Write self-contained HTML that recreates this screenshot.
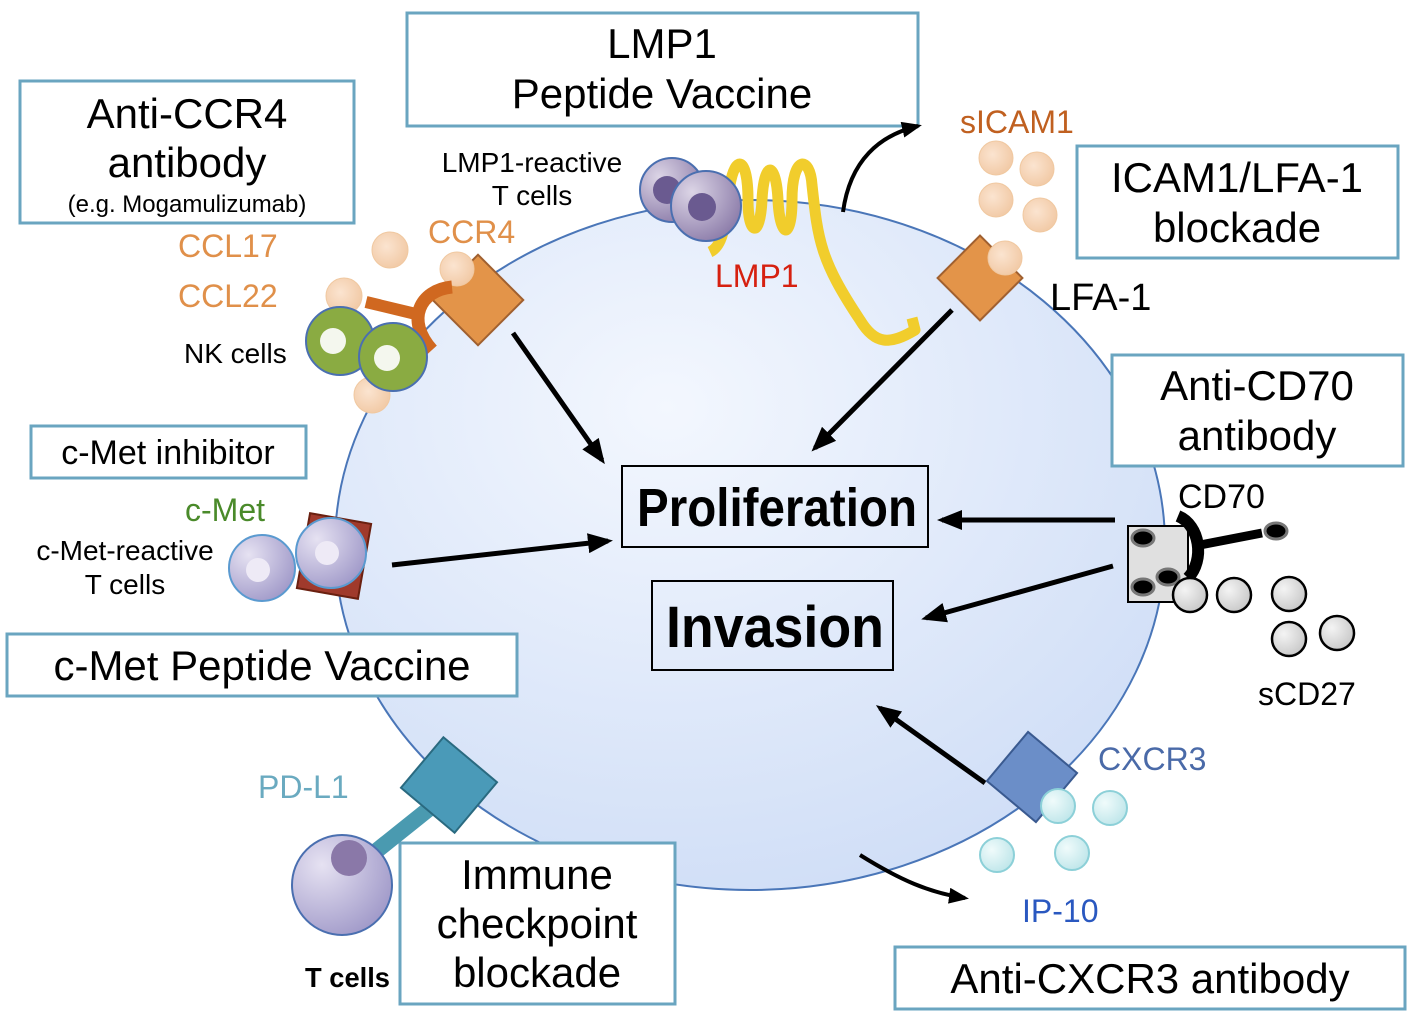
<!DOCTYPE html>
<html><head><meta charset="utf-8"><style>
body{margin:0;background:#fff;}
svg text{font-family:"Liberation Sans","DejaVu Sans",sans-serif;}
</style></head><body>
<svg width="1418" height="1022" viewBox="0 0 1418 1022" xmlns="http://www.w3.org/2000/svg">
<defs>
<radialGradient id="cell" cx="0.4" cy="0.3" r="0.8"><stop offset="0" stop-color="#f3f7fe"/><stop offset="1" stop-color="#cddcf6"/></radialGradient>
<radialGradient id="peach" cx="0.4" cy="0.4" r="0.6"><stop offset="0" stop-color="#fbe4d0"/><stop offset="1" stop-color="#f2cba8"/></radialGradient>
<radialGradient id="purp" cx="0.3" cy="0.3" r="0.8"><stop offset="0" stop-color="#dcd5e6"/><stop offset="1" stop-color="#8a7aa8"/></radialGradient>
<radialGradient id="lav" cx="0.3" cy="0.3" r="0.8"><stop offset="0" stop-color="#e6e2f2"/><stop offset="1" stop-color="#9f98c8"/></radialGradient>
<radialGradient id="grey" cx="0.35" cy="0.35" r="0.7"><stop offset="0" stop-color="#f4f4f4"/><stop offset="1" stop-color="#c8c8c8"/></radialGradient>
<radialGradient id="cyan" cx="0.35" cy="0.35" r="0.7"><stop offset="0" stop-color="#f0fbfb"/><stop offset="1" stop-color="#bfe6ea"/></radialGradient>
<marker id="ah" markerWidth="5" markerHeight="4" refX="4" refY="2" orient="auto" markerUnits="strokeWidth"><path d="M0,0 L5,2 L0,4 Z" fill="#000"/></marker>
</defs>
<ellipse cx="750" cy="545" rx="415" ry="345" fill="url(#cell)" stroke="#4a76b8" stroke-width="2"/>

<g fill="#fff" stroke="#6aa5c0" stroke-width="3">
<rect x="20" y="81" width="334" height="142"/>
<rect x="407" y="13" width="511" height="113"/>
<rect x="1077" y="146" width="321" height="112"/>
<rect x="1112" y="355" width="291" height="111"/>
<rect x="31" y="426" width="275" height="52"/>
<rect x="7" y="634" width="510" height="62"/>
<rect x="400" y="843" width="275" height="161"/>
<rect x="895" y="947" width="510" height="62"/>
</g>
<g font-size="42" text-anchor="middle" fill="#000">
<text x="187" y="128">Anti-CCR4</text>
<text x="187" y="177">antibody</text>
<text x="187" y="212" font-size="24">(e.g. Mogamulizumab)</text>
<text x="662" y="58">LMP1</text>
<text x="662" y="108">Peptide Vaccine</text>
<text x="1237" y="192">ICAM1/LFA-1</text>
<text x="1237" y="242">blockade</text>
<text x="1257" y="400">Anti-CD70</text>
<text x="1257" y="450">antibody</text>
<text x="168" y="464" font-size="34">c-Met inhibitor</text>
<text x="262" y="680">c-Met Peptide Vaccine</text>
<text x="537" y="889">Immune</text>
<text x="537" y="938">checkpoint</text>
<text x="537" y="987">blockade</text>
<text x="1150" y="993">Anti-CXCR3 antibody</text>
</g>

<rect x="622" y="466" width="306" height="81" fill="none" stroke="#000" stroke-width="2"/>
<text x="777" y="526" font-size="54" font-weight="bold" text-anchor="middle" textLength="280" lengthAdjust="spacingAndGlyphs">Proliferation</text>
<rect x="652" y="581" width="241" height="89" fill="none" stroke="#000" stroke-width="2"/>
<text x="775" y="647" font-size="58" font-weight="bold" text-anchor="middle" textLength="218" lengthAdjust="spacingAndGlyphs">Invasion</text>

<g stroke="#000" stroke-width="5" fill="none" marker-end="url(#ah)">
<line x1="513" y1="333" x2="602" y2="460"/>
<line x1="952" y1="310" x2="815" y2="448"/>
<line x1="392" y1="565" x2="608" y2="541"/>
<line x1="1115" y1="520" x2="942" y2="520"/>
<line x1="1113" y1="566" x2="926" y2="618"/>
<line x1="985" y1="783" x2="880" y2="708"/>
<path d="M843,212 C850,160 880,135 918,126" stroke-width="4"/>
<path d="M860,855 C900,880 930,893 965,898" stroke-width="4"/>
</g>

<circle cx="390" cy="250" r="18" fill="url(#peach)" stroke="#f0c8a0"/>
<circle cx="344" cy="296" r="18" fill="url(#peach)" stroke="#f0c8a0"/>
<circle cx="372" cy="395" r="18" fill="url(#peach)" stroke="#f0c8a0"/>
<rect x="446" y="268" width="64" height="64" fill="#e39449" stroke="#a06030" stroke-width="2" transform="rotate(45 478 300)"/>
<circle cx="457" cy="269" r="17" fill="url(#peach)" stroke="#f0c8a0"/>
<path d="M366,302 L420,315" stroke="#d06820" stroke-width="12"/>
<path d="M452,287 C420,290 405,320 432,350" stroke="#d06820" stroke-width="13" fill="none"/>
<circle cx="340" cy="341" r="34" fill="#8aab42" stroke="#4a6fb0" stroke-width="2"/>
<circle cx="333" cy="341" r="13" fill="#f4f7ee"/>
<circle cx="393" cy="357" r="34" fill="#8aab42" stroke="#4a6fb0" stroke-width="2"/>
<circle cx="387" cy="358" r="13" fill="#f4f7ee"/>
<g font-size="32" fill="#e0904a"><text x="178" y="257">CCL17</text><text x="178" y="307">CCL22</text><text x="428" y="243">CCR4</text></g>
<text x="184" y="363" font-size="28">NK cells</text>
<text x="532" y="172" font-size="28" text-anchor="middle">LMP1-reactive</text>
<text x="532" y="205" font-size="28" text-anchor="middle">T cells</text>

<path d="M710,252 C725,245 725,220 730,185 C735,155 748,155 748,200 C748,235 760,240 762,200 C764,160 776,160 778,200 C780,240 792,240 792,200 C792,155 810,155 812,185 C818,240 820,260 860,320 C875,345 890,345 915,330 L912,318" stroke="#f1cd2c" stroke-width="11" fill="none" stroke-linejoin="round"/>
<circle cx="672" cy="190" r="32" fill="url(#purp)" stroke="#4a6fb0" stroke-width="2"/>
<circle cx="667" cy="190" r="14" fill="#6a5a90"/>
<circle cx="706" cy="206" r="35" fill="url(#purp)" stroke="#4a6fb0" stroke-width="2"/>
<circle cx="702" cy="207" r="14" fill="#6a5a90"/>
<text x="715" y="287" font-size="32" fill="#d62010">LMP1</text>

<text x="960" y="133" font-size="32" fill="#c06020">sICAM1</text>
<g fill="url(#peach)" stroke="#f0c8a0"><circle cx="996" cy="158" r="17"/><circle cx="1037" cy="169" r="17"/><circle cx="996" cy="200" r="17"/><circle cx="1040" cy="215" r="17"/></g>
<rect x="950" y="248" width="60" height="60" fill="#e39449" stroke="#a06030" stroke-width="2" transform="rotate(45 980 278)"/>
<circle cx="1005" cy="258" r="17" fill="url(#peach)" stroke="#f0c8a0"/>
<text x="1050" y="310" font-size="38">LFA-1</text>

<rect x="303" y="518" width="62" height="76" fill="#a03a2c" stroke="#6a2010" stroke-width="2" transform="rotate(10 334 556)"/>
<circle cx="262" cy="568" r="33" fill="url(#lav)" stroke="#5a9ad0" stroke-width="2"/>
<circle cx="258" cy="570" r="12" fill="#eeeaf6"/>
<circle cx="331" cy="553" r="35" fill="url(#lav)" stroke="#5a9ad0" stroke-width="2"/>
<circle cx="327" cy="553" r="12" fill="#eeeaf6"/>
<text x="185" y="521" font-size="32" fill="#4a8a2a">c-Met</text>
<text x="125" y="560" font-size="28" text-anchor="middle">c-Met-reactive</text>
<text x="125" y="594" font-size="28" text-anchor="middle">T cells</text>

<rect x="1128" y="526" width="60" height="76" fill="#e0e0e0" stroke="#000" stroke-width="2"/>
<g fill="#000" stroke="#777" stroke-width="3"><ellipse cx="1143" cy="538" rx="11" ry="8"/><ellipse cx="1143" cy="587" rx="11" ry="8"/><ellipse cx="1168" cy="577" rx="11" ry="8"/><ellipse cx="1276" cy="531" rx="11" ry="8"/></g>
<path d="M1178,516 C1200,525 1205,560 1188,578" stroke="#000" stroke-width="12" fill="none"/>
<line x1="1200" y1="545" x2="1262" y2="533" stroke="#000" stroke-width="9"/>
<g fill="url(#grey)" stroke="#000" stroke-width="2.5"><circle cx="1190" cy="595" r="17"/><circle cx="1234" cy="595" r="17"/><circle cx="1289" cy="594" r="17"/><circle cx="1289" cy="639" r="17"/><circle cx="1337" cy="633" r="17"/></g>
<text x="1178" y="508" font-size="34">CD70</text>
<text x="1258" y="705" font-size="32">sCD27</text>

<rect x="1000" y="745" width="64" height="64" fill="#6b8ec8" stroke="#3a5a90" stroke-width="2" transform="rotate(40 1032 777)"/>
<g fill="url(#cyan)" stroke="#8cd0d8" stroke-width="2"><circle cx="1058" cy="806" r="17"/><circle cx="1110" cy="808" r="17"/><circle cx="997" cy="855" r="17"/><circle cx="1072" cy="853" r="17"/></g>
<text x="1098" y="770" font-size="32" fill="#4a6aa8">CXCR3</text>
<text x="1022" y="922" font-size="32" fill="#2a58c0">IP-10</text>

<line x1="375" y1="852" x2="440" y2="800" stroke="#4a9ab0" stroke-width="16"/>
<rect x="414" y="752" width="70" height="66" fill="#4a9ab8" stroke="#2a6a80" stroke-width="2" transform="rotate(40 449 785)"/>
<circle cx="342" cy="885" r="50" fill="url(#lav)" stroke="#4a6fb0" stroke-width="2"/>
<circle cx="349" cy="858" r="18" fill="#8a78a8"/>
<text x="258" y="798" font-size="32" fill="#6aaac0">PD-L1</text>
<text x="305" y="987" font-size="28" font-weight="bold" textLength="85" lengthAdjust="spacingAndGlyphs">T cells</text>
</svg>
</body></html>
